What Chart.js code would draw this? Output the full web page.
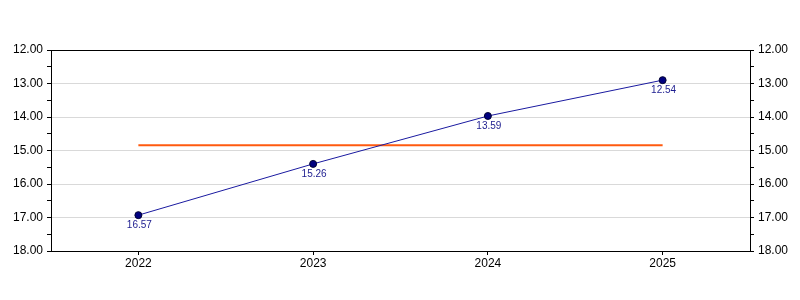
<!DOCTYPE html>
<html>
<head>
<meta charset="utf-8">
<script src="https://cdn.jsdelivr.net/npm/chart.js@4/dist/chart.umd.min.js"></script>
<style>
  html, body { margin: 0; padding: 0; background: #fff; }
  #wrap { width: 800px; height: 300px; }
</style>
</head>
<body>
<div id="wrap"><canvas id="myChart"></canvas></div>
<script>
const years = ['2022', '2023', '2024', '2025'];
const values = [16.93, 15.40, 13.97, 12.90];
const pointLabels = ['16.57', '15.26', '13.59', '12.54'];
const meanLine = [14.84, 14.84, 14.84, 14.84];

const yMin = 12;
const yMax = 18;

const ctx = document.getElementById('myChart');

// draws the small value text under each point
const valueLabels = {
    id: 'valueLabels',
    afterDatasetsDraw(chart) {
        const meta = chart.getDatasetMeta(1);
        const c = chart.ctx;
        c.save();
        c.font = '10px "Liberation Sans", Arial, sans-serif';
        c.fillStyle = '#1c1c8f';
        c.textAlign = 'center';
        c.textBaseline = 'middle';
        meta.data.forEach((pt, i) => {
            c.fillText(pointLabels[i], pt.x + 1, pt.y + 10);
        });
        c.restore();
    }
};

const gridColor = (context) => {
    const v = context.tick ? context.tick.value : null;
    if (v === yMin || v === yMax) return '#000';
    if (v !== null && Math.abs(v % 1) > 0.01) return 'rgba(0,0,0,0)';
    return '#d9d9d9';
};

const yAxis = (pos, w) => ({
    type: 'linear',
    position: pos,
    min: yMin,
    max: yMax,
    reverse: true,
    border: { display: true, color: '#000', width: 1 },
    grid: {
        color: gridColor,
        tickColor: '#000',
        tickLength: 4,
        drawOnChartArea: pos === 'left'
    },
    ticks: {
        stepSize: 0.5,
        autoSkip: false,
        color: '#000',
        padding: 4,
        font: { family: '"Liberation Sans", Arial, sans-serif', size: 12 },
        callback: (v) => (Math.abs(v % 1) > 0.01 ? '' : v.toFixed(2))
    },
    afterFit: (scale) => { scale.width = w; }
});

new Chart(ctx, {
    type: 'line',
    data: {
        labels: years,
        datasets: [{
            label: 'Mean',
            data: meanLine,
            borderColor: '#ff5a0f',
            borderWidth: 2,
            pointRadius: 0,
            yAxisID: 'y',
            order: 2
        }, {
            label: 'Value',
            data: values,
            borderColor: '#1a1aa0',
            borderWidth: 1,
            pointRadius: 3.5,
            pointBackgroundColor: '#000080',
            pointBorderColor: '#000033',
            pointBorderWidth: 1,
            yAxisID: 'y',
            order: 1
        }]
    },
    options: {
        responsive: true,
        maintainAspectRatio: false,
        animation: false,
        layout: { padding: { top: 50, left: 0, right: 0, bottom: 0 } },
        plugins: {
            legend: { display: false },
            tooltip: { enabled: false }
        },
        scales: {
            x: {
                offset: true,
                border: { display: true, color: '#000', width: 1 },
                grid: {
                    offset: false,
                    drawOnChartArea: false,
                    tickColor: '#000',
                    tickLength: 4
                },
                ticks: {
                    color: '#000',
                    padding: 1,
                    font: { family: '"Liberation Sans", Arial, sans-serif', size: 12 }
                },
                afterFit: (scale) => { scale.height = 49; }
            },
            y: yAxis('left', 51),
            y2: yAxis('right', 50)
        }
    },
    plugins: [valueLabels]
});
</script>
</body>
</html>
